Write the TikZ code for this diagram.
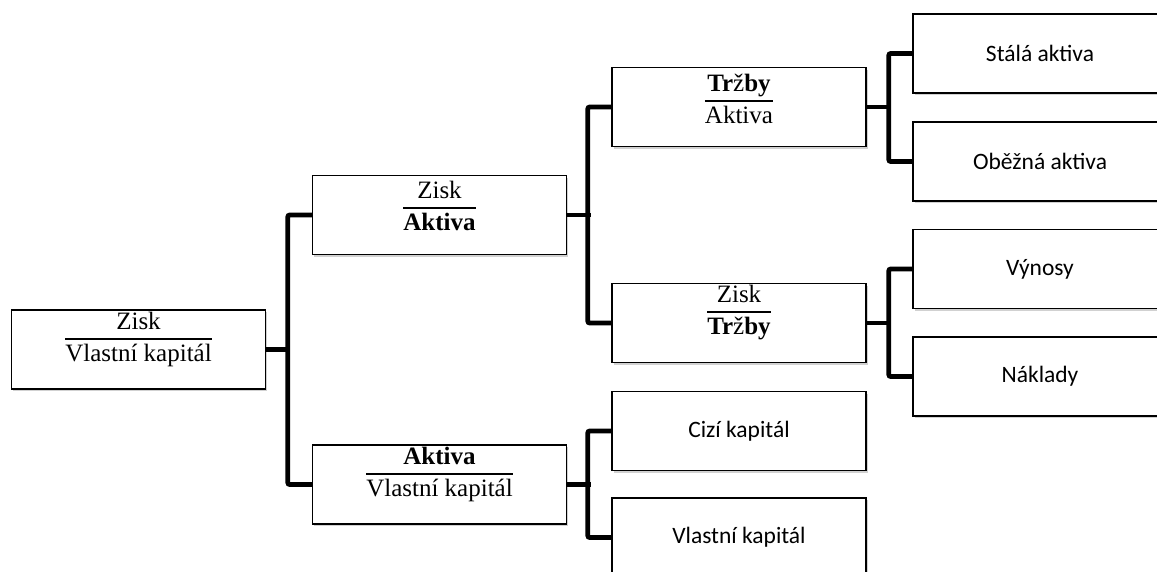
\documentclass[tikz,border=0pt]{standalone}
\usepackage{fontspec}
\setmainfont{Liberation Serif}
\newfontfamily\labfont{Carlito}
\usetikzlibrary{shadows}
\newcommand{\frc}[2]{\begin{tabular}{@{}c@{}}#1\\\hline #2\end{tabular}}
\setlength{\arrayrulewidth}{1.2pt}
\begin{document}
\begin{tikzpicture}[x=1pt,y=-1pt,
  box/.style={draw=black, line width=1.4pt, fill=white, minimum width=254pt, minimum height=79pt, inner sep=0pt,
    drop shadow={shadow xshift=1.5pt, shadow yshift=-2pt, opacity=0.18, fill=black}},
  frac/.style={inner sep=0pt, font=\fontsize{25}{31}\selectfont},
  lab/.style={font=\labfont\fontsize{23.5}{28}\selectfont},
  conn/.style={line width=4.8pt, rounded corners=2pt}]
\useasboundingbox (0,0) rectangle (1157,571);
% boxes
\node[box] (root) at (138.5,349.5) {};
\node[box] (m1) at (439.5,215) {};
\node[box] (m2) at (439.5,484.5) {};
\node[box] (ta) at (739,107) {};
\node[box] (zt) at (739,323) {};
\node[box,lab] (ck) at (739,431) {Cizí kapitál};
\node[box,lab] (vk) at (739,537.5) {Vlastní kapitál};
\node[box,lab] (sa) at (1040,53.5) {Stálá aktiva};
\node[box,lab] (oa) at (1040,161.5) {Oběžná aktiva};
\node[box,lab] (vy) at (1040,269) {Výnosy};
\node[box,lab] (na) at (1040,376.5) {Náklady};
% fraction texts
\node[frac] (rootT) at (138.5,339) {\frc{Zisk}{Vlastní kapitál}};
\node[frac] (m1T) at (439.5,208) {\frc{Zisk}{\textbf{Aktiva}}};
\node[frac] (m2T) at (439.5,474) {\frc{\textbf{Aktiva}}{Vlastní kapitál}};
\node[frac] (taT) at (739,101) {\frc{\textbf{Tr}ž\textbf{by}}{Aktiva}};
\node[frac] (ztT) at (739,312) {\frc{Zisk}{\textbf{Tr}ž\textbf{by}}};
% connectors
\draw[conn] (root.east) -- ++(24,0);
\draw[conn] (m1.west) -- ++(-24,0) |- (m2.west);
\draw[conn] (m1.east) -- ++(23.5,0);
\draw[conn] (ta.west) -- ++(-23.5,0) |- (zt.west);
\draw[conn] (m2.east) -- ++(23.5,0);
\draw[conn] (ck.west) -- ++(-23.5,0) |- (vk.west);
\draw[conn] (ta.east) -- ++(23.5,0);
\draw[conn] (sa.west) -- ++(-23.5,0) |- (oa.west);
\draw[conn] (zt.east) -- ++(23.5,0);
\draw[conn] (vy.west) -- ++(-23.5,0) |- (na.west);
\end{tikzpicture}
\end{document}
